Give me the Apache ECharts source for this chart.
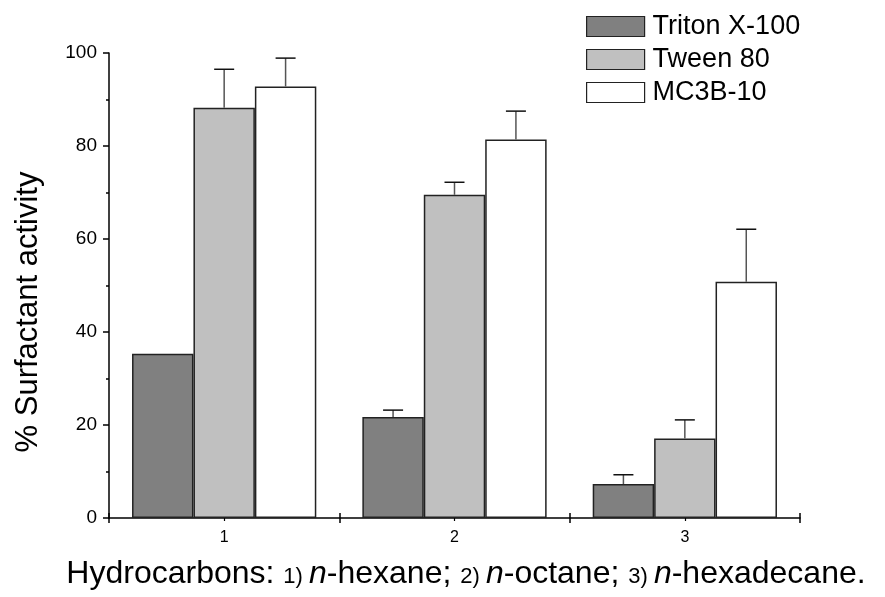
<!DOCTYPE html>
<html>
<head>
<meta charset="utf-8">
<script src="https://cdn.jsdelivr.net/npm/echarts@6/dist/echarts.min.js"></script>
<style>
  html, body { margin: 0; padding: 0; background: #fff; }
  #main { width: 885px; height: 597px; }
</style>
</head>
<body>
<div id="main"></div>
<script>
var categories = ['1', '2', '3'];
var seriesNames = ['Triton X-100', 'Tween 80', 'MC3B-10'];
var tritonValues = [35.3, 21.7, 7.3];
var tritonErrors = [0, 1.5, 2.0];
var tweenValues = [88.2, 69.5, 17.1];
var tweenErrors = [8.3, 2.7, 4.0];
var mc3bValues = [92.8, 81.4, 50.8];
var mc3bErrors = [6.1, 6.1, 11.3];
var yTicks = [0, 20, 40, 60, 80, 100];

var colors = ['#808080', '#c0c0c0', '#ffffff'];
var allValues = [tritonValues, tweenValues, mc3bValues];
var allErrors = [tritonErrors, tweenErrors, mc3bErrors];
var catGap = 0.2;
var font = 'Liberation Sans, Arial, sans-serif';

var chart = echarts.init(document.getElementById('main'));

var series = [];
allValues.forEach(function (vals, s) {
  series.push({
    name: seriesNames[s],
    type: 'bar',
    xAxisIndex: 0,
    data: vals,
    barGap: '0%',
    barCategoryGap: (catGap * 100) + '%',
    itemStyle: { color: colors[s], borderColor: '#222', borderWidth: 1.5 },
    emphasis: { disabled: true },
    z: 2
  });
});

// error bars, upward only
allValues.forEach(function (vals, s) {
  var data = vals.map(function (v, i) { return [i, v, allErrors[s][i]]; });
  series.push({
    type: 'custom',
    xAxisIndex: 0,
    silent: true,
    z: 3,
    data: data,
    renderItem: function (params, api) {
      var err = api.value(2);
      if (!err) return null;
      var catW = api.size([1, 0])[0];
      var barW = catW * (1 - catGap) / 3;
      var base = api.coord([api.value(0), api.value(1)]);
      var top = api.coord([api.value(0), api.value(1) + err]);
      var x = base[0] + (s - 1) * barW;
      return {
        type: 'group',
        children: [
          { type: 'line', shape: { x1: x, y1: base[1], x2: x, y2: top[1] },
            style: { stroke: '#555', lineWidth: 1.5 } },
          { type: 'line', shape: { x1: x - 10, y1: top[1], x2: x + 10, y2: top[1] },
            style: { stroke: '#111', lineWidth: 1.5 } }
        ]
      };
    }
  });
});

chart.setOption({
  animation: false,
  backgroundColor: '#fff',
  textStyle: { fontFamily: font },
  grid: { left: 109, right: 85, top: 53, bottom: 79, containLabel: false },
  legend: {
    data: seriesNames,
    orient: 'vertical',
    left: 581,
    top: 8,
    itemWidth: 58,
    itemHeight: 20,
    itemGap: 6,
    icon: 'rect',
    selectedMode: false,
    itemStyle: { borderColor: '#222', borderWidth: 1.2 },
    textStyle: { fontSize: 27, color: '#000', padding: [0, 0, 0, 3], fontFamily: font }
  },
  xAxis: [
    {
      type: 'category',
      data: categories,
      position: 'bottom',
      axisLine: { lineStyle: { color: '#000', width: 1.5 } },
      axisTick: { show: true, length: 5, lineStyle: { color: '#000', width: 1.5 } },
      axisLabel: { fontSize: 16, color: '#000', margin: 12 }
    },
    {
      type: 'category',
      data: categories,
      position: 'bottom',
      axisLine: { show: false },
      axisTick: { show: true, inside: true, length: 5, lineStyle: { color: '#000', width: 1.5 } },
      axisLabel: { show: false }
    },
    {
      type: 'category',
      data: categories,
      position: 'bottom',
      axisLine: { show: false },
      axisTick: { show: true, alignWithLabel: true, length: 3, lineStyle: { color: '#000', width: 1.2 } },
      axisLabel: { show: false }
    }
  ],
  yAxis: {
    type: 'value',
    min: yTicks[0],
    max: yTicks[yTicks.length - 1],
    interval: 20,
    axisLine: { show: true, lineStyle: { color: '#000', width: 1.5 } },
    axisTick: { show: true, length: 6, lineStyle: { color: '#000', width: 1.5 } },
    minorTick: { show: true, splitNumber: 2, length: 3, lineStyle: { color: '#000', width: 1.5 } },
    splitLine: { show: false },
    axisLabel: { fontSize: 19, color: '#000', margin: 12 }
  },
  graphic: [
    {
      type: 'text',
      x: 28,
      y: 312,
      rotation: Math.PI / 2,
      style: {
        text: '% Surfactant activity',
        fontSize: 31,
        fill: '#000',
        fontFamily: font,
        align: 'center',
        verticalAlign: 'middle'
      }
    },
    {
      type: 'text',
      x: 466,
      y: 574,
      style: {
        text: '{a|Hydrocarbons: }{s|1) }{i|n}{a|-hexane; }{s|2) }{i|n}{a|-octane; }{s|3) }{i|n}{a|-hexadecane.}',
        align: 'center',
        verticalAlign: 'middle',
        fill: '#000',
        rich: {
          a: { fontSize: 32, fontFamily: font, fill: '#000' },
          i: { fontSize: 32, fontStyle: 'italic', fontFamily: font, fill: '#000' },
          s: { fontSize: 22, fontFamily: font, fill: '#000', padding: [6, 0, 0, 0] }
        }
      }
    }
  ],
  series: series
});
</script>
</body>
</html>
